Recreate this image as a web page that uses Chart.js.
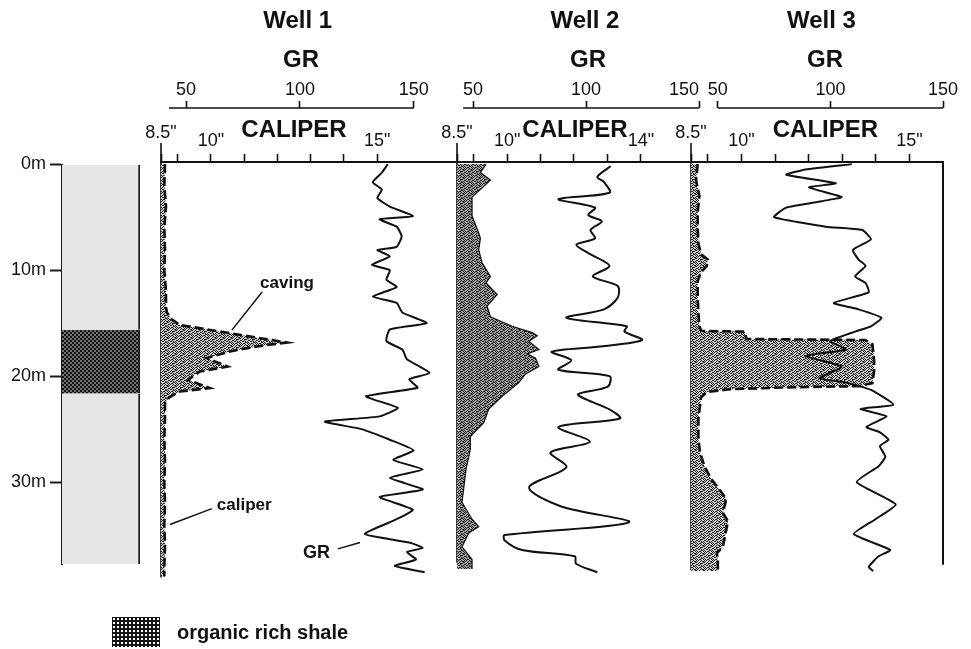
<!DOCTYPE html>
<html>
<head>
<meta charset="utf-8">
<script src="https://cdn.jsdelivr.net/npm/chart.js@4.4.1/dist/chart.umd.min.js"></script>
<style>
  html, body { margin: 0; padding: 0; background: #ffffff; }
  #wrap { position: relative; width: 971px; height: 649px; overflow: hidden; font-family: "Liberation Sans", Arial, sans-serif; }
  #wrap canvas { position: absolute; left: 0; top: 0; }
  #legend { position: absolute; left: 112px; top: 617px; display: flex; align-items: center; }
  #legend .sw { width: 48px; height: 30px; background-color: #161616;
    background-image: radial-gradient(circle, #ffffff 0.9px, rgba(255,255,255,0) 1.3px);
    background-size: 4px 4px; }
  #legend span { margin-left: 17px; font: bold 20px "Liberation Sans", Arial, sans-serif; color: #111; }
</style>
</head>
<body>
<div id="wrap">
  <canvas id="litho" width="971" height="649"></canvas>
  <canvas id="well1" width="971" height="649"></canvas>
  <canvas id="well2" width="971" height="649"></canvas>
  <canvas id="well3" width="971" height="649"></canvas>
  <div id="legend"><div class="sw"></div><span>organic rich shale</span></div>
</div>
<script>
// ---------------- DATA ----------------
// depth column (lithology)
const depthTicks = [0, 10, 20, 30];
const lithoUnits = ['background lithology', 'organic rich shale', 'background lithology'];
const lithoTop  = [0, 15.6, 21.6];
const lithoBase = [15.6, 21.6, 37.7];

// log scales
const bitSizeIn = 8.5;
const caliperTicksW1 = [8.5, 9, 10, 11, 12, 13, 14, 15];
const caliperLabelsW1 = [8.5, 10, 15];
const caliperTicksW2 = [8.5, 9, 10, 11, 12, 13, 14];
const caliperLabelsW2 = [8.5, 10, 14];
const caliperTicksW3 = [8.5, 9, 10, 11, 12, 13, 14, 15];
const caliperLabelsW3 = [8.5, 10, 15];
const grTicksW1 = [50, 100, 150];
const grTicksW2 = [42.9, 50, 100, 150];   // first entry is an unlabeled anchor
const grTicksW3 = [50, 100, 150];
const grLabels = [50, 100, 150];

// Well 1
const well1GRDepth = [0,0.8,1.7,2.4,3.2,4.0,4.9,5.2,5.9,6.8,7.8,8.1,8.7,9.5,10.0,10.9,11.6,12.5,13.1,14.0,15.0,15.6,16.7,17.5,18.4,19.7,20.3,21.1,21.9,23.0,23.8,24.3,25.0,26.0,27.0,27.9,28.8,29.6,30.7,31.4,32.6,33.5,34.9,35.7,36.2,36.6,37.3,37.9,38.5];
const well1GR = [138.6,136,132,136,134,139.5,149.6,135,142.5,144.7,142.5,134,139.5,131.6,139.5,138,142.5,132,142.5,145,155.7,139.5,138,145,147,157,148,151.7,129,143,135,111,127,139.5,150,141,154,139.5,154,135,149.6,142.5,128.5,148,154,147,151,141.7,154.8];
const well1CalDepth = [0,2,4,6,8,10,12,13.5,14.0,14.6,15.17,15.95,16.42,16.83,17.2,17.68,18.3,19.1,19.56,20.35,21.13,21.45,22.0,22.55,24,26,28,30,32,34,36,38,38.9];
const well1Cal = [8.62,8.6,8.65,8.6,8.62,8.6,8.65,8.65,8.68,8.8,9.07,10.57,11.48,12.28,11.38,10.57,9.87,10.5,9.67,9.31,9.97,9.07,8.75,8.62,8.62,8.6,8.62,8.6,8.62,8.6,8.62,8.6,8.6];
const well1BitDepth = [0, 39];
const well1EdgeDepth = [-2.0, 39];

// Well 2
const well2GRDepth = [0.2,1.2,1.7,2.7,3.3,4.1,4.8,5.4,6.2,7.0,7.6,8.4,9.6,10.6,11.5,12.6,13.7,14.5,15.3,15.8,16.6,17.2,17.7,18.5,19.4,20.0,21.0,21.7,22.2,23.2,24.0,24.8,26.2,27.2,28.6,30.5,32.3,33.8,35.0,35.5,36.4,37.0,37.7,38.5];
const well2GR = [110.9,105,108,110.4,87.8,104,101,107,102,104,95.7,101,110.4,103,114,114,108,91.3,118,117,124.8,106.5,84.8,93.5,87.8,110.4,109.6,96.5,100,110.9,115,87.8,101.7,84.3,91.3,74.8,89,119,64,64,71.7,95,95.6,105];
const well2CalDepth = [0,0.8,1.5,2.1,3.1,4.9,6.5,7.0,8.1,9.3,10.6,11.2,12.3,13.4,14.4,15.3,15.9,16.2,16.7,17.5,17.9,18.3,19.1,19.8,20.6,21.9,23.1,24.4,25.7,26.9,28.8,31.9,33.5,34.2,34.8,36.1,37.3,38.2];
const well2Cal = [9.37,9.2,9.5,9.3,8.95,8.95,9.15,9.2,9.15,9.25,9.5,9.37,9.7,9.4,9.5,10.15,10.75,10.9,10.65,10.95,10.6,10.85,10.95,10.55,10.35,9.85,9.45,9.3,8.9,8.9,8.77,8.65,8.95,9.15,8.85,8.65,8.95,8.95];
const well2BitDepth = [0, 37.6];
const well2EdgeDepth = [-2.0, 37.6];

// Well 3
const well3GRDepth = [0,0.5,1.0,1.8,2.2,3.1,3.5,4.1,5.0,5.9,6.2,7.1,8.1,9.0,9.6,10.6,11.2,12.1,13.1,13.7,14.5,15.3,15.8,16.7,17.5,18.1,19.1,20.2,20.6,21.3,22.7,23.1,23.8,24.8,25.3,26.0,26.6,27.6,28.5,30.0,32.1,33.5,34.9,36.4,37.0,38.0,38.4];
const well3GR = [109.5,89,80.4,102.4,90.5,105,96,80.4,75,98,114,118,110,112.5,115.6,111,115.6,117,101.5,112.5,122.7,118,111,100,106.8,89,105,95,106.8,118,128,113.4,125,116,122,125.8,122,124.4,121.4,111.7,129,120,110.4,126.6,121.4,117,119];
const well3CalDepth = [0,1.5,3,4.5,6,7.5,8.5,9.0,9.6,10.2,11,12.5,14,15.3,15.7,15.75,15.8,16.5,16.6,17.0,18.5,19.5,20.66,20.95,21.04,21.23,21.5,22,24,26,27.2,28.5,29.7,30.5,31.6,32.9,33.7,34.5,35.3,36.1,36.7,37.5,38.4];
const well3Cal = [8.7,8.65,8.75,8.7,8.7,8.72,8.8,9.0,8.97,8.8,8.7,8.7,8.72,8.75,8.8,8.85,10.1,10.15,13.68,13.9,13.95,13.95,13.9,13.5,11.65,9.66,8.97,8.8,8.72,8.72,8.77,8.9,9.1,9.3,9.55,9.45,9.6,9.55,9.5,9.45,9.27,9.3,9.3];
const well3BitDepth = [0, 36.8];
const well3EdgeDepth = [-2.0, 38.3];
const well3FrameDepth = [-0.2, 37.8];
const well3FrameCaliper = 16;

// ---------------- STYLE HELPERS ----------------
Chart.defaults.font.family = '"Liberation Sans", Arial, sans-serif';
Chart.defaults.color = '#111';
const INK = '#111111';
const FONT = '"Liberation Sans", Arial, sans-serif';

function stipplePattern(bg) {
  const rows = [
    '10100100',
    '01001011',
    '10010001',
    '00101110',
    '11001000',
    '00110101',
    '10000110',
    '01011001'];
  const c = document.createElement('canvas');
  c.width = 8; c.height = 8;
  const g = c.getContext('2d');
  g.fillStyle = bg;
  g.fillRect(0, 0, 8, 8);
  g.fillStyle = '#1a1a1a';
  rows.forEach((r, y) => { for (let x = 0; x < 8; x++) if (r[x] === '1') g.fillRect(x, y, 1, 1); });
  return g.createPattern(c, 'repeat');
}
function dotPattern() {
  const c = document.createElement('canvas');
  c.width = 4; c.height = 4;
  const g = c.getContext('2d');
  g.fillStyle = '#151515';
  g.fillRect(0, 0, 4, 4);
  g.fillStyle = '#ffffff';
  g.beginPath(); g.arc(1, 1, 0.75, 0, Math.PI * 2); g.fill();
  g.beginPath(); g.arc(3, 3, 0.75, 0, Math.PI * 2); g.fill();
  return g.createPattern(c, 'repeat');
}
const pts = (depths, values) => depths.map((d, i) => ({ x: values[i], y: d }));
const constPts = (depths, v) => depths.map(d => ({ x: v, y: d }));

// ---------------- LITHOLOGY COLUMN ----------------
const shale = dotPattern();
new Chart(document.getElementById('litho'), {
  type: 'bar',
  data: {
    labels: ['column'],
    datasets: lithoUnits.map((u, i) => ({
      label: u,
      data: [[lithoTop[i], lithoBase[i]]],
      backgroundColor: u === 'organic rich shale' ? shale : '#e6e6e6',
      borderColor: '#1a1a1a',
      borderWidth: { left: 0, right: 2, top: 0, bottom: 0 },
      borderSkipped: false,
      barPercentage: 1, categoryPercentage: 1, grouped: false
    }))
  },
  options: {
    responsive: false, animation: false, devicePixelRatio: 1,
    layout: { padding: { left: 0, right: 831, top: 164.5, bottom: 84.9 } },
    plugins: { legend: { display: false }, tooltip: { enabled: false } },
    scales: {
      x: { display: false },
      y: {
        type: 'linear', reverse: true, min: 0, max: 37.7, position: 'left',
        border: { display: true, color: '#1a1a1a', width: 2 },
        grid: { drawOnChartArea: false, tickLength: 12, tickWidth: 2, tickColor: '#1a1a1a' },
        ticks: { autoSkip: false, padding: 4, color: INK, font: { size: 18 }, callback: v => v + 'm' },
        afterBuildTicks: s => { s.ticks = depthTicks.map(v => ({ value: v })); },
        afterFit: s => { s.width = 62; }
      }
    }
  }
});

// ---------------- WELL TRACKS ----------------
function decor(cfg) {
  return {
    id: 'decor',
    afterDraw(chart) {
      const { ctx } = chart;
      const cal = chart.scales.cal, gr = chart.scales.gr, y = chart.scales.y;
      ctx.save();
      ctx.fillStyle = INK; ctx.strokeStyle = INK;
      ctx.textAlign = 'center'; ctx.textBaseline = 'middle';
      ctx.font = 'bold 24px ' + FONT;
      ctx.fillText(cfg.title, gr.getPixelForValue(cfg.titleAt), 21);
      ctx.fillText('GR', gr.getPixelForValue(cfg.grTitleAt), 60);
      ctx.fillText('CALIPER', cal.getPixelForValue(cfg.calTitleAt), 130);
      // GR scale bar
      ctx.lineWidth = 1.6;
      ctx.beginPath();
      ctx.moveTo(gr.getPixelForValue(cfg.grBar[0]), gr.bottom);
      ctx.lineTo(gr.getPixelForValue(cfg.grBar[1]), gr.bottom);
      ctx.stroke();
      // annotations
      (cfg.notes || []).forEach(n => {
        const sc = chart.scales[n.axis];
        ctx.font = 'bold ' + n.size + 'px ' + FONT;
        ctx.textAlign = n.align;
        ctx.fillText(n.text, sc.getPixelForValue(n.at[0]), y.getPixelForValue(n.at[1]));
        ctx.lineWidth = 1.5;
        ctx.beginPath();
        ctx.moveTo(sc.getPixelForValue(n.from[0]), y.getPixelForValue(n.from[1]));
        ctx.lineTo(sc.getPixelForValue(n.to[0]), y.getPixelForValue(n.to[1]));
        ctx.stroke();
      });
      ctx.restore();
    }
  };
}

function wellChart(id, w) {
  const datasets = [
    { label: 'GR', data: pts(w.grDepth, w.gr), xAxisID: 'gr', yAxisID: 'y',
      borderColor: INK, borderWidth: 2, tension: w.grTension, pointRadius: 0, fill: false },
    { label: 'Caliper', data: pts(w.calDepth, w.cal), xAxisID: 'cal', yAxisID: 'y',
      borderColor: INK, borderWidth: w.calWidth, borderDash: w.calDash, tension: 0, pointRadius: 0,
      fill: { value: bitSizeIn }, backgroundColor: stipplePattern(w.stippleBg) },
    { label: 'Bit size', data: constPts(w.bitDepth, bitSizeIn), xAxisID: 'cal', yAxisID: 'y',
      borderColor: '#000', borderWidth: 3.5, borderDash: [22, 4], pointRadius: 0, fill: false },
    { label: 'Track edge', data: constPts(w.edgeDepth, bitSizeIn), xAxisID: 'cal', yAxisID: 'y',
      borderColor: INK, borderWidth: 1.6, pointRadius: 0, fill: false, clip: false }
  ];
  if (w.frameDepth) {
    datasets.push({ label: 'Track frame', data: constPts(w.frameDepth, w.frameCal), xAxisID: 'cal', yAxisID: 'y',
      borderColor: INK, borderWidth: 2, pointRadius: 0, fill: false, clip: false });
  }
  return new Chart(document.getElementById(id), {
    type: 'line',
    data: { datasets },
    plugins: [decor(w.decor)],
    options: {
      responsive: false, animation: false, devicePixelRatio: 1,
      indexAxis: 'y',
      layout: { padding: { left: w.left, right: 971 - w.right, top: 48, bottom: 71.5 } },
      plugins: { legend: { display: false }, tooltip: { enabled: false } },
      scales: {
        y: { type: 'linear', reverse: true, min: -0.2, max: 39, display: false },
        cal: {
          type: 'linear', position: 'top', min: bitSizeIn, max: w.calMax, weight: 0,
          border: { display: true, color: INK, width: 2 },
          grid: { drawOnChartArea: false, drawTicks: true, tickLength: 8, tickWidth: 1.6, tickColor: INK },
          ticks: {
            autoSkip: false, maxRotation: 0, padding: 2, color: INK,
            font: c => (c.tick && c.tick.value === bitSizeIn) ? { size: 18, lineHeight: 0.685 } : { size: 18, lineHeight: 1.2 },
            callback: v => w.calLabels.includes(v) ? (v === bitSizeIn ? [v + '"', ''] : v + '"') : ''
          },
          afterBuildTicks: s => { s.ticks = w.calTicks.map(v => ({ value: v })); },
          afterFit: s => { s.height = 54; }
        },
        gr: {
          type: 'linear', position: 'top', min: w.grMin, max: w.grMax, weight: 1,
          border: { display: false },
          grid: { drawOnChartArea: false, drawTicks: true, tickLength: 7, tickWidth: 1.6,
                  tickColor: c => (c.tick && grLabels.includes(c.tick.value)) ? INK : 'rgba(0,0,0,0)' },
          ticks: {
            autoSkip: false, maxRotation: 0, padding: 0, color: INK, align: w.grAlign,
            font: { size: 18 },
            callback: v => grLabels.includes(v) ? String(v) : ''
          },
          afterBuildTicks: s => { s.ticks = w.grTicks.map(v => ({ value: v })); },
          afterFit: s => { s.height = 60; }
        }
      }
    }
  });
}

wellChart('well1', {
  left: 161, right: 457, calMax: 17.4, grMin: 39, grMax: 169, grAlign: 'center',
  calTicks: caliperTicksW1, calLabels: caliperLabelsW1, grTicks: grTicksW1,
  grDepth: well1GRDepth, gr: well1GR, calDepth: well1CalDepth, cal: well1Cal,
  bitDepth: well1BitDepth, edgeDepth: well1EdgeDepth, calWidth: 2.6, calDash: [9, 4],
  grTension: 0.15, stippleBg: '#cfcfcf',
  decor: { title: 'Well 1', titleAt: 99, grTitleAt: 100.5, calTitleAt: 12.5, grBar: [42.5, 150],
    notes: [
      { text: 'caving', size: 17, axis: 'cal', at: [12.29, 11.2], align: 'center', from: [11.54, 12.07], to: [10.63, 15.66] },
      { text: 'caliper', size: 17, axis: 'cal', at: [10.18, 32.2], align: 'left', from: [8.77, 34.0], to: [10.03, 32.5] },
      { text: 'GR', size: 18, axis: 'gr', at: [113.2, 36.7], align: 'right', from: [116.7, 36.3], to: [126.4, 35.7] }
    ] }
});
wellChart('well2', {
  left: 457, right: 699, calMax: 15.74, grMin: 42.9, grMax: 150, grAlign: 'inner',
  calTicks: caliperTicksW2, calLabels: caliperLabelsW2, grTicks: grTicksW2,
  grDepth: well2GRDepth, gr: well2GR, calDepth: well2CalDepth, cal: well2Cal,
  bitDepth: well2BitDepth, edgeDepth: well2EdgeDepth, calWidth: 1.2, calDash: [],
  grTension: 0.3, stippleBg: '#a8a8a8',
  decor: { title: 'Well 2', titleAt: 99.5, grTitleAt: 100.9, calTitleAt: 12.03, grBar: [45.6, 150], notes: [] }
});
wellChart('well3', {
  left: 691, right: 943, calMax: 16, grMin: 38.1, grMax: 150, grAlign: 'center',
  calTicks: caliperTicksW3, calLabels: caliperLabelsW3, grTicks: grTicksW3,
  grDepth: well3GRDepth, gr: well3GR, calDepth: well3CalDepth, cal: well3Cal,
  bitDepth: well3BitDepth, edgeDepth: well3EdgeDepth, calWidth: 2.6, calDash: [9, 4],
  grTension: 0.15, stippleBg: '#d4d4d4',
  frameDepth: well3FrameDepth, frameCal: well3FrameCaliper,
  decor: { title: 'Well 3', titleAt: 96, grTitleAt: 97.6, calTitleAt: 12.5, grBar: [50, 150], notes: [] }
});
</script>
</body>
</html>
